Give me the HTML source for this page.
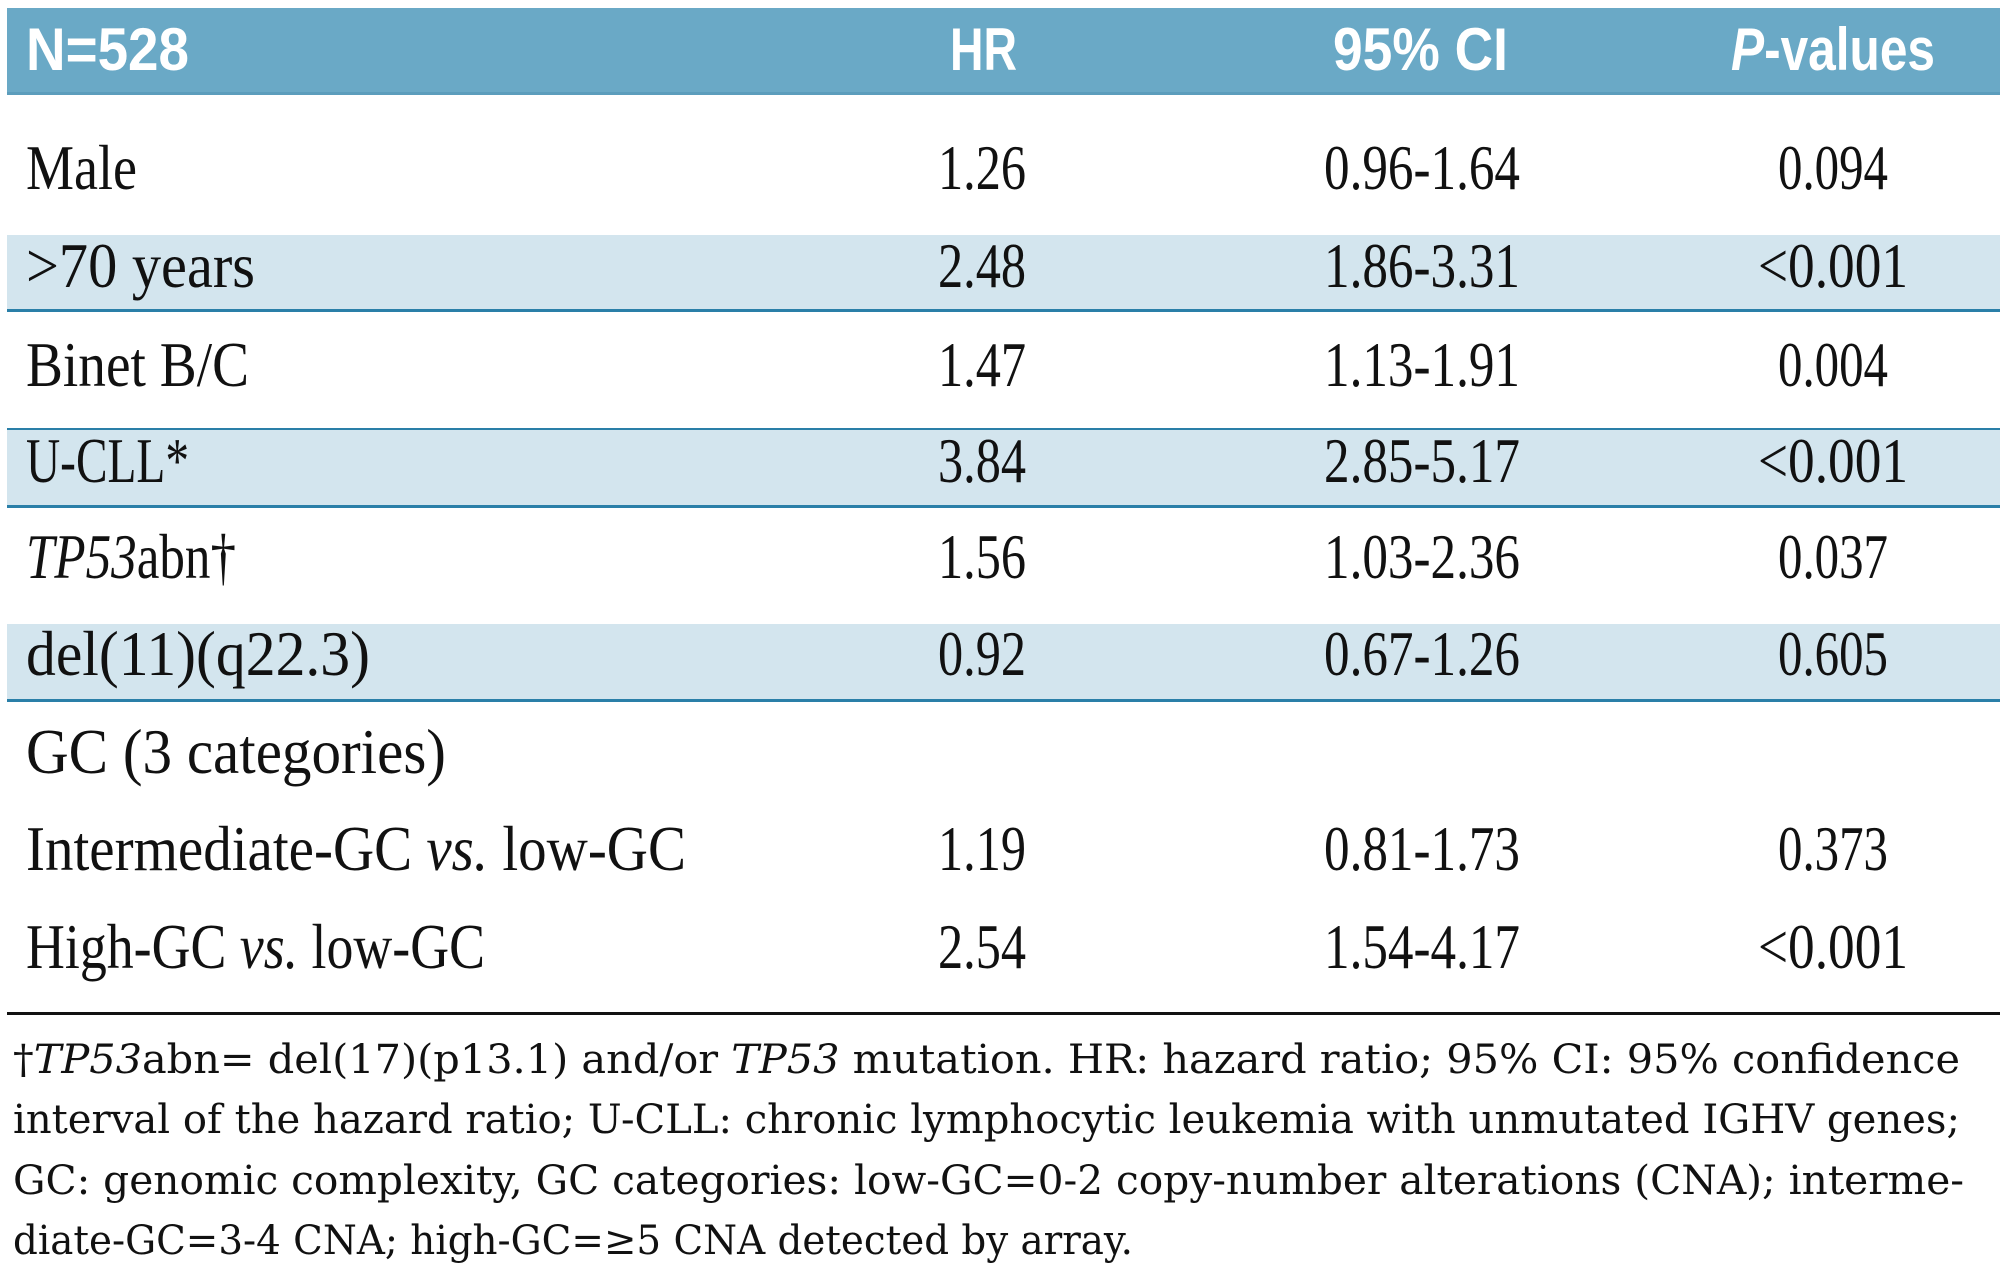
<!DOCTYPE html>
<html><head><meta charset="utf-8"><style>html,body{margin:0;padding:0;background:#fff;width:2000px;height:1281px;overflow:hidden}</style></head>
<body>
<svg width="2000" height="1281" xmlns="http://www.w3.org/2000/svg">
<rect x="0" y="0" width="2000" height="1281" fill="#fff"/>
<rect x="7" y="8" width="1993" height="86" fill="#6aa9c6"/>
<rect x="7" y="92" width="1993" height="3" fill="#5c9dbc"/>
<rect x="7" y="235" width="1993" height="75" fill="#d3e5ee"/>
<rect x="7" y="309" width="1993" height="3" fill="#2a7fa8"/>
<rect x="7" y="430" width="1993" height="76" fill="#d3e5ee"/>
<rect x="7" y="428" width="1993" height="2" fill="#2a7fa8"/>
<rect x="7" y="505" width="1993" height="3" fill="#2a7fa8"/>
<rect x="7" y="624" width="1993" height="76" fill="#d3e5ee"/>
<rect x="7" y="699" width="1993" height="3" fill="#2a7fa8"/>
<rect x="7" y="1012" width="1993" height="3" fill="#111"/>
<g font-family="Liberation Sans, sans-serif" font-weight="bold" font-size="60" fill="#fff">
<text x="26" y="70" textLength="163" lengthAdjust="spacingAndGlyphs">N=528</text>
<text x="950" y="70" textLength="67" lengthAdjust="spacingAndGlyphs">HR</text>
<text x="1333" y="70" textLength="175" lengthAdjust="spacingAndGlyphs">95% CI</text>
<text x="1731" y="70" textLength="204" lengthAdjust="spacingAndGlyphs"><tspan font-style="italic">P</tspan>-values</text>
</g>
<g font-family="Liberation Serif, serif" font-size="63" fill="#111">
<text x="26" y="189" textLength="111" lengthAdjust="spacingAndGlyphs">Male</text>
<text x="26" y="287" textLength="229" lengthAdjust="spacingAndGlyphs">&gt;70 years</text>
<text x="26" y="386" textLength="223" lengthAdjust="spacingAndGlyphs">Binet B/C</text>
<text x="26" y="482" textLength="163" lengthAdjust="spacingAndGlyphs">U-CLL*</text>
<text x="26" y="578" textLength="210" lengthAdjust="spacingAndGlyphs"><tspan font-style="italic">TP53</tspan>abn†</text>
<text x="26" y="675" textLength="344" lengthAdjust="spacingAndGlyphs">del(11)(q22.3)</text>
<text x="26" y="773" textLength="420" lengthAdjust="spacingAndGlyphs">GC (3 categories)</text>
<text x="26" y="870" textLength="660" lengthAdjust="spacingAndGlyphs">Intermediate-GC <tspan font-style="italic">vs.</tspan> low-GC</text>
<text x="26" y="968" textLength="459" lengthAdjust="spacingAndGlyphs">High-GC <tspan font-style="italic">vs.</tspan> low-GC</text>
<g text-anchor="middle">
<text x="982" y="189" textLength="88" lengthAdjust="spacingAndGlyphs">1.26</text>
<text x="982" y="287" textLength="88" lengthAdjust="spacingAndGlyphs">2.48</text>
<text x="982" y="386" textLength="88" lengthAdjust="spacingAndGlyphs">1.47</text>
<text x="982" y="482" textLength="88" lengthAdjust="spacingAndGlyphs">3.84</text>
<text x="982" y="578" textLength="88" lengthAdjust="spacingAndGlyphs">1.56</text>
<text x="982" y="675" textLength="88" lengthAdjust="spacingAndGlyphs">0.92</text>
<text x="982" y="870" textLength="88" lengthAdjust="spacingAndGlyphs">1.19</text>
<text x="982" y="968" textLength="88" lengthAdjust="spacingAndGlyphs">2.54</text>
<text x="1422" y="189" textLength="196" lengthAdjust="spacingAndGlyphs">0.96-1.64</text>
<text x="1422" y="287" textLength="196" lengthAdjust="spacingAndGlyphs">1.86-3.31</text>
<text x="1422" y="386" textLength="196" lengthAdjust="spacingAndGlyphs">1.13-1.91</text>
<text x="1422" y="482" textLength="196" lengthAdjust="spacingAndGlyphs">2.85-5.17</text>
<text x="1422" y="578" textLength="196" lengthAdjust="spacingAndGlyphs">1.03-2.36</text>
<text x="1422" y="675" textLength="196" lengthAdjust="spacingAndGlyphs">0.67-1.26</text>
<text x="1422" y="870" textLength="196" lengthAdjust="spacingAndGlyphs">0.81-1.73</text>
<text x="1422" y="968" textLength="196" lengthAdjust="spacingAndGlyphs">1.54-4.17</text>
<text x="1833" y="189" textLength="110" lengthAdjust="spacingAndGlyphs">0.094</text>
<text x="1833" y="287" textLength="150" lengthAdjust="spacingAndGlyphs">&lt;0.001</text>
<text x="1833" y="386" textLength="110" lengthAdjust="spacingAndGlyphs">0.004</text>
<text x="1833" y="482" textLength="150" lengthAdjust="spacingAndGlyphs">&lt;0.001</text>
<text x="1833" y="578" textLength="110" lengthAdjust="spacingAndGlyphs">0.037</text>
<text x="1833" y="675" textLength="110" lengthAdjust="spacingAndGlyphs">0.605</text>
<text x="1833" y="870" textLength="110" lengthAdjust="spacingAndGlyphs">0.373</text>
<text x="1833" y="968" textLength="150" lengthAdjust="spacingAndGlyphs">&lt;0.001</text>
</g>
</g>
<g font-family="DejaVu Serif, serif" font-size="40" fill="#111">
<text x="13" y="1073" textLength="1947" lengthAdjust="spacingAndGlyphs">†<tspan font-style="italic">TP53</tspan>abn= del(17)(p13.1) and/or <tspan font-style="italic">TP53</tspan> mutation. HR: hazard ratio; 95% CI: 95% confidence</text>
<text x="13" y="1133" textLength="1947" lengthAdjust="spacingAndGlyphs">interval of the hazard ratio; U-CLL: chronic lymphocytic leukemia with unmutated IGHV genes;</text>
<text x="13" y="1194" textLength="1951" lengthAdjust="spacingAndGlyphs">GC: genomic complexity, GC categories: low-GC=0-2 copy-number alterations (CNA); interme-</text>
<text x="13" y="1254" textLength="1120" lengthAdjust="spacingAndGlyphs">diate-GC=3-4 CNA; high-GC=≥5 CNA detected by array.</text>
</g>
</svg>
</body></html>
